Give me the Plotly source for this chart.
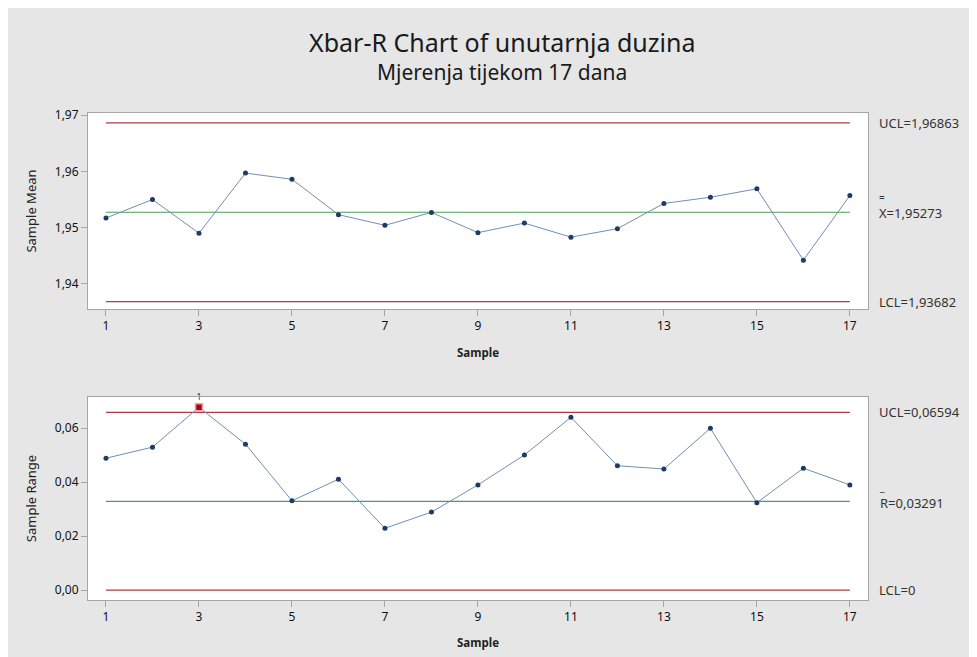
import plotly.graph_objects as go

samples = list(range(1, 18))
sample_means = [1.9517, 1.9550, 1.9490, 1.9597, 1.9586, 1.9523, 1.9504, 1.9527, 1.9491,
                1.9508, 1.9483, 1.9498, 1.9543, 1.9554, 1.9569, 1.9442, 1.9557]
sample_ranges = [0.0489, 0.0530, 0.0678, 0.0541, 0.0331, 0.0411, 0.0229, 0.0289, 0.0390,
                 0.0501, 0.0641, 0.0461, 0.0449, 0.0600, 0.0324, 0.0452, 0.0390]
xbar_ucl, xbar_center, xbar_lcl = 1.96863, 1.95273, 1.93682
r_ucl, r_center, r_lcl = 0.06594, 0.03291, 0.0
x_ticks = [1, 3, 5, 7, 9, 11, 13, 15, 17]

RED = "#ad3a48"
GREEN = "#4a9e57"
LINE = "#6f8fb5"
MARK = "#1f3a66"
FONT = "Noto Sans"

fig = go.Figure()

def add_chart(vals, ucl, cen, lcl, xa, ya):
    fig.add_trace(go.Scatter(x=[samples[0], samples[-1]], y=[ucl, ucl], mode="lines",
                             line=dict(color=RED, width=1.2), xaxis=xa, yaxis=ya, hoverinfo="skip"))
    fig.add_trace(go.Scatter(x=[samples[0], samples[-1]], y=[lcl, lcl], mode="lines",
                             line=dict(color=RED, width=1.2), xaxis=xa, yaxis=ya, hoverinfo="skip"))
    fig.add_trace(go.Scatter(x=[samples[0], samples[-1]], y=[cen, cen], mode="lines",
                             line=dict(color=GREEN, width=1.2), xaxis=xa, yaxis=ya, hoverinfo="skip"))
    fig.add_trace(go.Scatter(x=samples, y=vals, mode="lines+markers",
                             line=dict(color=LINE, width=1),
                             marker=dict(color=MARK, size=5, symbol="circle"),
                             xaxis=xa, yaxis=ya))
    out_x = [s for s, v in zip(samples, vals) if v > ucl or v < lcl]
    out_y = [v for v in vals if v > ucl or v < lcl]
    if out_x:
        fig.add_trace(go.Scatter(x=out_x, y=out_y, mode="markers+text", text=["1"] * len(out_x),
                                 textposition="top center", cliponaxis=False,
                                 textfont=dict(family=FONT, size=9, color="#333"),
                                 marker=dict(color="#b0001a", size=7, symbol="square",
                                             line=dict(color="#f0a0a8", width=1.5)),
                                 xaxis=xa, yaxis=ya))

add_chart(sample_means, xbar_ucl, xbar_center, xbar_lcl, "x", "y")
add_chart(sample_ranges, r_ucl, r_center, r_lcl, "x2", "y2")

axis_common = dict(showgrid=False, zeroline=False, showline=True, linecolor="#a6a6a6",
                   linewidth=1, mirror=True, ticks="outside", ticklen=6, tickcolor="#a6a6a6",
                   automargin=False,
                   tickfont=dict(family=FONT, size=12, color="#111"))
ytitle_font = dict(family=FONT, size=13, color="#222")
xtitle_font = dict(family=FONT, size=11.5, color="#222")

fig.update_layout(
    width=977, height=657,
    margin=dict(l=80, r=117, t=105, b=65),
    paper_bgcolor="#e6e6e6", plot_bgcolor="white",
    separators=",.",
    showlegend=False,
    xaxis=dict(axis_common, domain=[0, 1], anchor="y", range=[0.613, 17.39],
               tickvals=x_ticks, title=dict(text="<b>Sample</b>", font=xtitle_font, standoff=15)),
    yaxis=dict(axis_common, domain=[0.5975, 1], anchor="x", range=[1.9355, 1.9704],
               tickvals=[1.94, 1.95, 1.96, 1.97], tickformat=".2f",
               title=dict(text="Sample Mean", font=ytitle_font, standoff=15)),
    xaxis2=dict(axis_common, domain=[0, 1], anchor="y2", range=[0.613, 17.39],
                tickvals=x_ticks, title=dict(text="<b>Sample</b>", font=xtitle_font, standoff=14)),
    yaxis2=dict(axis_common, domain=[0, 0.4168], anchor="x2", range=[-0.0037, 0.0716],
                tickvals=[0.0, 0.02, 0.04, 0.06], tickformat=".2f",
                title=dict(text="Sample Range", font=ytitle_font, standoff=15)),
)

def px_x(sx):
    return (sx - 88) / 780

def px_y(sy):
    return (600 - sy) / 487

# titles
fig.add_annotation(text="Xbar-R Chart of unutarnja duzina", xref="paper", yref="paper",
                   x=px_x(502), y=px_y(42), showarrow=False,
                   font=dict(family=FONT, size=25, color="#1a1a1a"), xanchor="center", yanchor="middle")
fig.add_annotation(text="Mjerenja tijekom 17 dana", xref="paper", yref="paper",
                   x=px_x(502), y=px_y(72), showarrow=False,
                   font=dict(family=FONT, size=21, color="#1a1a1a"), xanchor="center", yanchor="middle")

lab_font = dict(family=FONT, size=13, color="#333")
def right_label(text, yval, yref, yshift=0):
    fig.add_annotation(text=text, x=px_x(877), xref="paper", y=yval, yref=yref, showarrow=False,
                       xanchor="left", yanchor="middle", align="left", font=lab_font, yshift=yshift)

right_label("UCL=1,96863", xbar_ucl, "y")
right_label("LCL=1,93682", xbar_lcl, "y")
right_label("<span style='font-size:10px'>=</span><br>X=1,95273", xbar_center, "y", yshift=6)
right_label("UCL=0,06594", r_ucl, "y2")
right_label("LCL=0", r_lcl, "y2")
right_label("<span style='font-size:10px'>_</span><br>R=0,03291", r_center, "y2", yshift=5)

fig.write_html("out.html")
